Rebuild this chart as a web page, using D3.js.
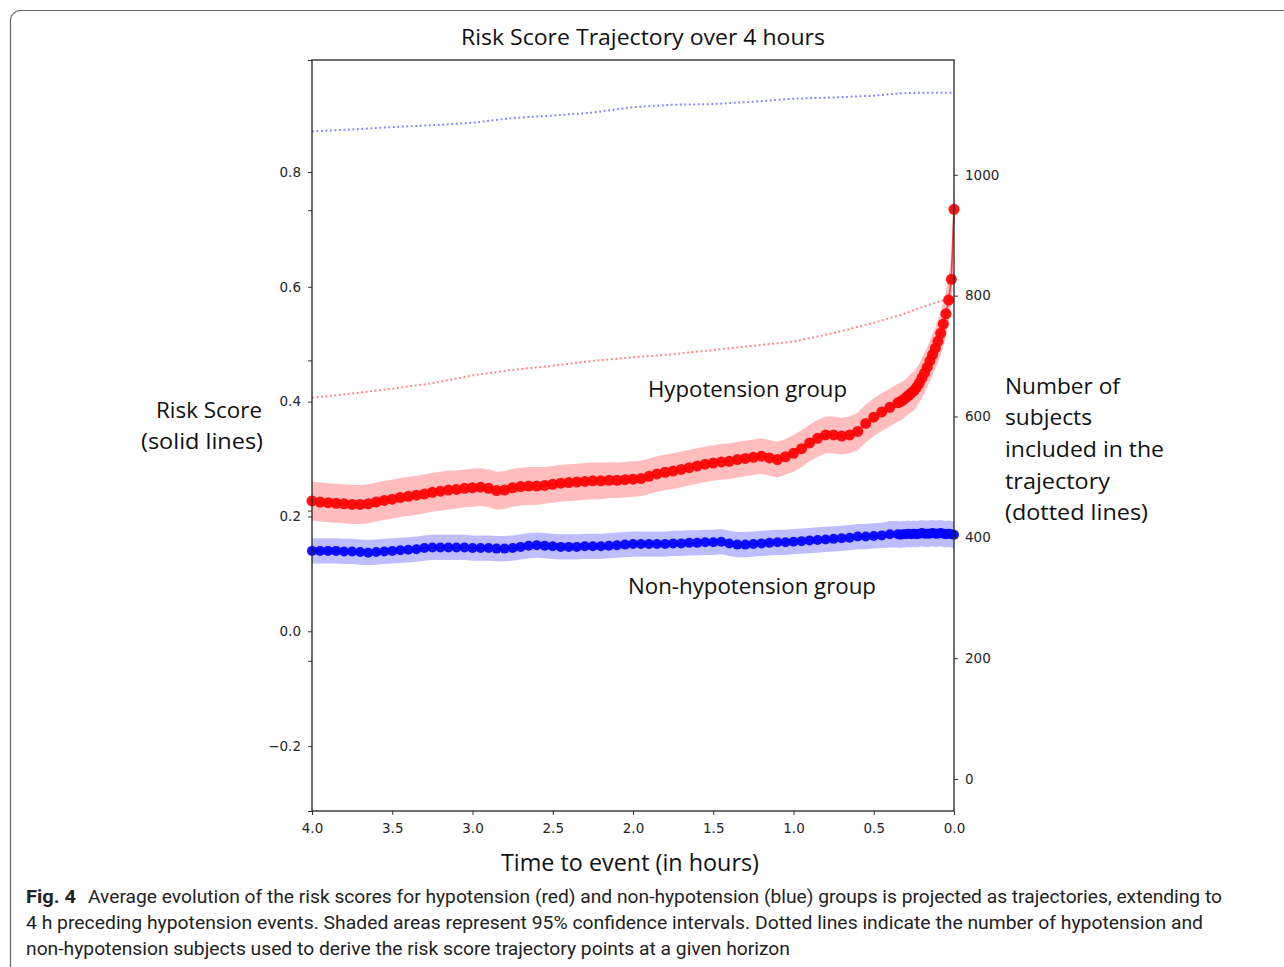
<!DOCTYPE html>
<html>
<head>
<meta charset="utf-8">
<script src="https://cdn.jsdelivr.net/npm/d3@7"></script>
<style>
  body { margin: 0; background: #fff; }
  svg { display: block; }
</style>
</head>
<body>
<div id="chart"></div>
<script>
// minutes before the hypotension event
var minutes = [0,1,2,3,4,5,6,7,8,9,10,11,12,13,14,15,16,17,18,19,20,
  21,24,27,30,33,36,39,42,45,48,
  51,54,57,60,63,66,69,72,75,78,
  81,84,87,90,93,96,99,102,105,108,
  111,114,117,120,123,126,129,132,135,138,
  141,144,147,150,153,156,159,162,165,168,
  171,174,177,180,183,186,189,192,195,198,
  201,204,207,210,213,216,219,222,225,228,
  231,234,237,240]

var redScore = [0.735,0.613,0.577,0.553,0.535,0.519,0.505,0.493,0.482,0.471,0.460,0.450,0.441,0.432,0.425,0.419,0.415,0.411,0.407,0.403,0.400,
  0.398,0.390,0.382,0.373,0.362,0.348,0.342,0.340,0.342,0.342,
  0.336,0.328,0.318,0.310,0.304,0.299,0.302,0.305,0.303,0.301,
  0.299,0.296,0.295,0.293,0.291,0.288,0.285,0.282,0.279,0.277,
  0.274,0.270,0.266,0.265,0.264,0.263,0.263,0.262,0.262,0.261,
  0.260,0.259,0.258,0.256,0.254,0.253,0.253,0.252,0.250,0.246,
  0.245,0.249,0.251,0.250,0.249,0.247,0.246,0.244,0.242,0.239,
  0.237,0.235,0.233,0.230,0.228,0.225,0.222,0.221,0.221,0.222,
  0.223,0.224,0.225,0.227]

var redCI = [0.045,0.042,0.040,0.040,0.039,0.038,0.037,0.036,0.036,0.035,0.035,0.035,0.034,0.034,0.034,0.034,0.034,0.033,0.033,0.033,0.033,
  0.033,0.033,0.033,0.033,0.033,0.033,0.032,0.032,0.032,0.032,
  0.032,0.032,0.032,0.032,0.031,0.031,0.031,0.031,0.031,0.031,
  0.031,0.031,0.031,0.031,0.031,0.031,0.031,0.031,0.031,0.031,
  0.031,0.031,0.031,0.031,0.031,0.031,0.031,0.032,0.032,0.032,
  0.032,0.032,0.032,0.032,0.032,0.033,0.033,0.033,0.033,0.033,
  0.033,0.033,0.033,0.033,0.033,0.033,0.034,0.034,0.034,0.034,
  0.034,0.034,0.034,0.034,0.034,0.034,0.034,0.034,0.034,0.034,
  0.034,0.034,0.034,0.034]

var blueScore = [0.168,0.169,0.170,0.169,0.170,0.171,0.170,0.170,0.171,0.170,0.170,0.170,0.171,0.170,0.169,0.170,0.169,0.170,0.169,0.169,0.168,
  0.169,0.169,0.167,0.166,0.165,0.165,0.163,0.162,0.161,0.160,
  0.159,0.158,0.157,0.156,0.155,0.155,0.154,0.153,0.152,0.151,
  0.151,0.153,0.156,0.155,0.155,0.154,0.154,0.153,0.153,0.152,
  0.152,0.152,0.152,0.152,0.151,0.150,0.149,0.148,0.148,0.148,
  0.147,0.147,0.147,0.148,0.149,0.150,0.149,0.147,0.145,0.144,
  0.144,0.145,0.145,0.145,0.146,0.146,0.146,0.146,0.146,0.145,
  0.143,0.142,0.141,0.140,0.139,0.138,0.137,0.138,0.139,0.139,
  0.140,0.140,0.140,0.140]

var blueCI = [0.023,0.023,0.023,0.023,0.023,0.023,0.023,0.023,0.023,0.023,0.023,0.023,0.023,0.023,0.023,0.023,0.023,0.023,0.023,0.023,0.023,
  0.023,0.023,0.022,0.022,0.022,0.022,0.022,0.022,0.022,0.022,
  0.022,0.022,0.022,0.022,0.022,0.022,0.022,0.022,0.022,0.022,
  0.022,0.022,0.022,0.022,0.022,0.022,0.022,0.022,0.022,0.022,
  0.022,0.022,0.022,0.022,0.022,0.022,0.022,0.022,0.022,0.022,
  0.022,0.022,0.022,0.022,0.022,0.022,0.022,0.022,0.022,0.022,
  0.022,0.022,0.022,0.022,0.022,0.022,0.022,0.022,0.022,0.022,
  0.022,0.022,0.022,0.022,0.022,0.022,0.022,0.022,0.022,0.022,
  0.022,0.022,0.022,0.022]

// number of subjects (dotted lines, right axis)
var countMinutes = [240,225,210,195,180,165,150,135,120,105,90,75,60,45,30,20,10,0]
var redCount  = [631,638,646,655,668,677,684,692,698,703,710,717,724,738,755,768,784,798]
var blueCount = [1072,1075,1079,1082,1086,1094,1098,1103,1112,1116,1117,1121,1126,1128,1131,1135,1136,1136]

var xTicks = [4.0,3.5,3.0,2.5,2.0,1.5,1.0,0.5,0.0]
var leftTicks = [-0.2,0.0,0.2,0.4,0.6,0.8]
var rightTicks = [0,200,400,600,800,1000]

var W = 1284, H = 967
var plot = {left: 312, right: 954, top: 60, bottom: 811}
var tickFont = "'DejaVu Sans', sans-serif"
var labelFont = "'Open Sans', 'Noto Sans', sans-serif"

var svg = d3.select("#chart")
  .append("svg")
  .attr("width", W)
  .attr("height", H)

// figure border
svg.append("rect")
  .attr("x", 10.5).attr("y", 10.5)
  .attr("width", 1300).attr("height", 1000)
  .attr("rx", 10)
  .attr("fill", "none")
  .attr("stroke", "#666")
  .attr("stroke-width", 1.2)

var x = d3.scaleLinear().domain([4, 0]).range([plot.left, plot.right])
var y = d3.scaleLinear().domain([-0.313, 0.995]).range([plot.bottom, plot.top])
var yR = d3.scaleLinear().domain([-53, 1190]).range([plot.bottom, plot.top])
var yHidden = d3.scaleLinear().domain([0, 1]).range([plot.bottom, plot.top])

var red = minutes.map((m, i) => ({h: m / 60, v: redScore[i], ci: redCI[i]}))
var blue = minutes.map((m, i) => ({h: m / 60, v: blueScore[i], ci: blueCI[i]}))

var g = svg.append("g")

function band(data, color) {
  g.append("path")
    .datum(data)
    .attr("d", d3.area()
      .x(d => x(d.h))
      .y0(d => y(d.v - d.ci))
      .y1(d => y(d.v + d.ci)))
    .attr("fill", color)
    .attr("fill-opacity", 0.26)
}

function series(data, color, r) {
  g.append("path")
    .datum(data)
    .attr("d", d3.line().x(d => x(d.h)).y(d => y(d.v)))
    .attr("fill", "none")
    .attr("stroke", color)
    .attr("stroke-opacity", 0.7)
    .attr("stroke-width", 1.6)
  g.append("g")
    .selectAll("circle")
    .data(data)
    .enter()
    .append("circle")
    .attr("cx", d => x(d.h))
    .attr("cy", d => y(d.v))
    .attr("r", r)
    .attr("fill", color)
    .attr("fill-opacity", 0.92)
}

band(red, "#ff0000")
band(blue, "#0000ff")
series(red, "#ff0000", 5.5)
series(blue, "#0000ff", 5)

function countLine(values, color) {
  g.append("path")
    .datum(countMinutes.map((m, i) => ({h: m / 60, n: values[i]})))
    .attr("d", d3.line().x(d => x(d.h)).y(d => yR(d.n)))
    .attr("fill", "none")
    .attr("stroke", color)
    .attr("stroke-opacity", 0.5)
    .attr("stroke-width", 2)
    .attr("stroke-dasharray", "1.8 2.7")
}
countLine(redCount, "#ff0000")
countLine(blueCount, "#0000ff")

// axes
function styleAxis(sel) {
  sel.select(".domain").remove()
  sel.selectAll("line").attr("stroke", "#333").attr("stroke-width", 1)
  sel.selectAll("text")
    .attr("font-family", tickFont)
    .attr("font-size", 13.5)
    .attr("fill", "#262626")
}

svg.append("g")
  .attr("transform", "translate(" + plot.left + ",0)")
  .call(d3.axisLeft(y).tickValues(leftTicks).tickSize(4).tickPadding(7).tickFormat(d3.format(".1f")))
  .call(styleAxis)

svg.append("g")
  .attr("transform", "translate(" + plot.left + ",0)")
  .call(d3.axisLeft(yHidden).ticks(5).tickSize(4).tickFormat(""))
  .call(styleAxis)

svg.append("g")
  .attr("transform", "translate(" + plot.right + ",0)")
  .call(d3.axisRight(yR).tickValues(rightTicks).tickSize(4).tickPadding(7).tickFormat(d3.format("d")))
  .call(styleAxis)

svg.append("g")
  .attr("transform", "translate(0," + plot.bottom + ")")
  .call(d3.axisBottom(x).tickValues(xTicks).tickSize(4).tickPadding(8).tickFormat(d3.format(".1f")))
  .call(styleAxis)

svg.append("rect")
  .attr("x", plot.left).attr("y", plot.top)
  .attr("width", plot.right - plot.left)
  .attr("height", plot.bottom - plot.top)
  .attr("fill", "none")
  .attr("stroke", "#222")
  .attr("stroke-width", 1.3)

// texts
function label(txt, xx, yy, size, len, anchor, weight) {
  var t = svg.append("text")
    .attr("x", xx).attr("y", yy)
    .attr("font-family", labelFont)
    .attr("font-size", size)
    .attr("fill", "#111")
    .attr("text-anchor", anchor || "start")
    .text(txt)
  if (weight) t.attr("font-weight", weight)
  if (len) t.attr("textLength", len).attr("lengthAdjust", "spacingAndGlyphs")
  return t
}

label("Risk Score Trajectory over 4 hours", 461, 45, 22, 364)
label("Hypotension group", 648, 397, 22, 199)
label("Non-hypotension group", 628, 594, 22, 248)
label("Risk Score", 156, 418, 22, 106)
label("(solid lines)", 141, 449, 22, 122)
label("Number of", 1005, 394, 22, 115)
label("subjects", 1005, 425, 22, 87)
label("included in the", 1005, 457, 22, 159)
label("trajectory", 1005, 489, 22, 105)
label("(dotted lines)", 1005, 520, 22, 143)
label("Time to event (in hours)", 501, 871, 23, 258)

var capFont = "'Liberation Sans Narrow', 'Roboto', sans-serif"
function cap(txt, xx, yy, len, weight) {
  var t = svg.append("text")
    .attr("x", xx).attr("y", yy)
    .attr("font-family", capFont)
    .attr("font-size", 19)
    .attr("fill", "#222")
    .attr("textLength", len)
    .attr("lengthAdjust", "spacingAndGlyphs")
    .text(txt)
  if (weight) t.attr("font-weight", weight)
}
cap("Fig. 4", 26, 903, 50, "bold")
cap("Average evolution of the risk scores for hypotension (red) and non-hypotension (blue) groups is projected as trajectories, extending to", 88, 903, 1134)
cap("4 h preceding hypotension events. Shaded areas represent 95% confidence intervals. Dotted lines indicate the number of hypotension and", 26, 929, 1177)
cap("non-hypotension subjects used to derive the risk score trajectory points at a given horizon", 26, 955, 764)
</script>
</body>
</html>
